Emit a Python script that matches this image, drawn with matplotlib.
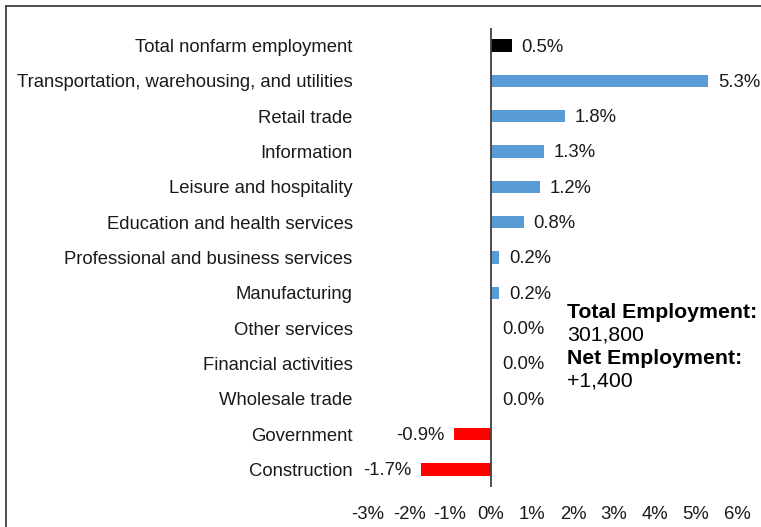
import matplotlib.pyplot as plt
from matplotlib.lines import Line2D

plt.rcParams['font.family'] = ['Liberation Sans', 'DejaVu Sans']

# sectors, top to bottom
sectors = ['Total nonfarm employment',
           'Transportation, warehousing, and utilities',
           'Retail trade',
           'Information',
           'Leisure and hospitality',
           'Education and health services',
           'Professional and business services',
           'Manufacturing',
           'Other services',
           'Financial activities',
           'Wholesale trade',
           'Government',
           'Construction']
pct_change = [0.5, 5.3, 1.8, 1.3, 1.2, 0.8, 0.2, 0.2, 0.0, 0.0, 0.0, -0.9, -1.7]
xticks = [-3, -2, -1, 0, 1, 2, 3, 4, 5, 6]

total_emp = '301,800'
net_emp = '+1,400'

def bar_color(i, v):
    if i == 0:
        return 'black'
    return '#5B9BD5' if v >= 0 else '#FF0000'

fig = plt.figure(figsize=(7.61, 5.27), dpi=100)
ax = fig.add_axes([368/761, 1-487/527, 369/761, 459/527])

ypos = list(range(len(sectors)))
colors = [bar_color(i, v) for i, v in enumerate(pct_change)]
ax.barh(ypos, pct_change, height=0.35, color=colors, zorder=2)

ax.set_xlim(-3, 6)
ax.set_ylim(len(sectors) - 0.5, -0.5)

fs = 13.3
# value labels
for y, v in zip(ypos, pct_change):
    if v > 0:
        ax.annotate('%.1f%%' % v, (v, y), xytext=(7, -1), textcoords='offset points',
                    ha='left', va='center', fontsize=fs, color='#1a1a1a')
    elif v < 0:
        ax.annotate('%.1f%%' % v, (v, y), xytext=(-7, -1), textcoords='offset points',
                    ha='right', va='center', fontsize=fs, color='#1a1a1a')
    else:
        ax.annotate('%.1f%%' % v, (0, y), xytext=(8, -1), textcoords='offset points',
                    ha='left', va='center', fontsize=fs, color='#1a1a1a')

# category labels
ax.set_yticks(ypos)
ax.set_yticklabels(sectors, fontsize=fs, color='#1a1a1a')
ax.tick_params(axis='y', length=0, pad=11)
ax.set_xticks(xticks)
ax.set_xticklabels(['%d%%' % t for t in xticks], fontsize=fs, color='#1a1a1a')
ax.tick_params(axis='x', length=0, pad=14)

for s in ['top', 'right', 'bottom', 'left']:
    ax.spines[s].set_visible(False)
ax.axvline(0, color='#404040', lw=1.3, zorder=3)

# summary text
ax.text(1.85, 7.55, 'Total Employment:', fontsize=15.3, fontweight='bold', va='center', ha='left')
ax.text(1.85, 8.2, total_emp, fontsize=15.3, va='center', ha='left')
ax.text(1.85, 8.85, 'Net Employment:', fontsize=15.3, fontweight='bold', va='center', ha='left')
ax.text(1.85, 9.5, net_emp, fontsize=15.3, va='center', ha='left')

# outer frame (left and top)
fig.add_artist(Line2D([5.5/761, 5.5/761], [0, 1-6/527], transform=fig.transFigure, color='#404040', lw=1.3))
fig.add_artist(Line2D([5.5/761, 1], [1-6/527, 1-6/527], transform=fig.transFigure, color='#404040', lw=1.3))

fig.savefig('out.png', dpi=100)
